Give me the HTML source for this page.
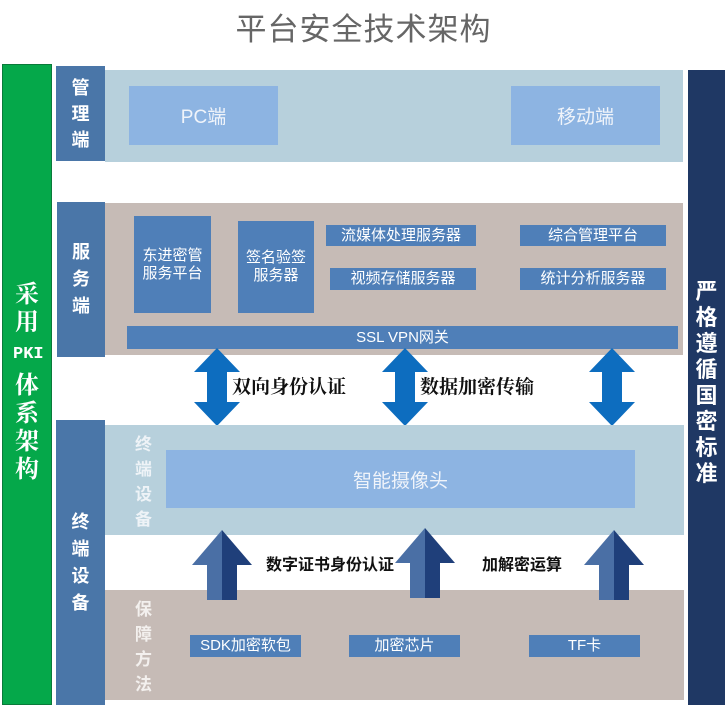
<!DOCTYPE html>
<html><head><meta charset="utf-8"><style>
*{margin:0;padding:0;box-sizing:border-box}
body{width:727px;height:709px;background:#fff;position:relative;overflow:hidden;font-family:"Liberation Sans","Noto Sans CJK SC",sans-serif}
.a{position:absolute}
.c{display:flex;align-items:center;justify-content:center;text-align:center;color:#fff}
.bx{background:#4f7fb8;font-size:15px;line-height:18px}
.lt{background:#8db4e2;font-size:19px;color:#f0f4fa}
</style></head><body>
<div class="a" style="left:0;top:4px;width:727px;text-align:center;font-size:31px;color:#666;letter-spacing:1px">平台安全技术架构</div>

<div class="a c" style="left:2px;top:64px;width:50px;height:641px;background:#05a84a;border:1px solid #0a7a3a">
<div style="font-family:'Noto Serif CJK SC',serif;font-weight:bold;font-size:24px;line-height:28px;width:28px;margin-top:-10px">采用<span style="font-size:17px;font-family:'Liberation Mono',monospace">PKI</span>体系架构</div></div>
<div class="a c" style="left:688px;top:70px;width:37px;height:635px;background:#1f3864">
<div style="font-size:22px;line-height:26px;width:24px;font-weight:bold;margin-top:-10px">严格遵循国密标准</div></div>

<div class="a" style="left:105px;top:70px;width:578px;height:92px;background:#b7d0dc"></div>
<div class="a c" style="left:56px;top:66px;width:49px;height:95px;background:#4a76a8;font-size:18px;line-height:26px;font-weight:bold"><div style="width:20px">管理端</div></div>
<div class="a c lt" style="left:129px;top:86px;width:149px;height:59px">PC端</div>
<div class="a c lt" style="left:511px;top:86px;width:149px;height:59px">移动端</div>

<div class="a" style="left:105px;top:203px;width:578px;height:152px;background:#c6bbb6"></div>
<div class="a c" style="left:57px;top:202px;width:48px;height:155px;background:#4a76a8;font-size:18px;line-height:27px;font-weight:bold"><div style="width:20px">服务端</div></div>
<div class="a c bx" style="left:134px;top:216px;width:77px;height:97px">东进密管<br>服务平台</div>
<div class="a c bx" style="left:238px;top:221px;width:76px;height:92px">签名验签<br>服务器</div>
<div class="a c bx" style="left:326px;top:225px;width:150px;height:21px">流媒体处理服务器</div>
<div class="a c bx" style="left:330px;top:268px;width:146px;height:22px">视频存储服务器</div>
<div class="a c bx" style="left:520px;top:225px;width:146px;height:21px">综合管理平台</div>
<div class="a c bx" style="left:520px;top:268px;width:146px;height:22px">统计分析服务器</div>
<div class="a c bx" style="left:127px;top:326px;width:551px;height:23px">SSL VPN网关</div>

<svg class="a" style="left:0;top:0" width="727" height="709">
<g fill="#0d6dbf">
<polygon points="217,348 240,372 227,372 227,402 240,402 217,426 194,402 207,402 207,372 194,372"/>
<polygon points="405,348 428,372 415,372 415,402 428,402 405,426 382,402 395,402 395,372 382,372"/>
<polygon points="612,348 635,372 622,372 622,402 635,402 612,426 589,402 602,402 602,372 589,372"/>
</g>
</svg>
<div class="a" style="left:232px;top:372px;font-size:19px;font-weight:bold;color:#111;font-family:'Noto Serif CJK SC',serif">双向身份认证</div>
<div class="a" style="left:420px;top:372px;font-size:19px;font-weight:bold;color:#111;font-family:'Noto Serif CJK SC',serif">数据加密传输</div>

<div class="a c" style="left:56px;top:420px;width:49px;height:285px;background:#4a76a8;font-size:18px;line-height:27px;font-weight:bold"><div style="width:20px">终端设备</div></div>
<div class="a" style="left:105px;top:425px;width:579px;height:110px;background:#b7d0dc"></div>
<div class="a" style="left:135px;top:432px;width:20px;font-size:17px;line-height:25px;color:#eef3f7;font-weight:bold">终端设备</div>
<div class="a c lt" style="left:166px;top:450px;width:469px;height:58px">智能摄像头</div>

<div class="a" style="left:105px;top:590px;width:579px;height:110px;background:#c6bbb6"></div>
<div class="a" style="left:135px;top:597px;width:20px;font-size:17px;line-height:25px;color:#f3f0ee;font-weight:bold">保障方法</div>
<div class="a c bx" style="left:190px;top:635px;width:111px;height:22px">SDK加密软包</div>
<div class="a c bx" style="left:349px;top:635px;width:111px;height:22px">加密芯片</div>
<div class="a c bx" style="left:529px;top:635px;width:111px;height:22px">TF卡</div>

<div class="a" style="left:266px;top:551px;font-size:16px;font-weight:bold;color:#111">数字证书身份认证</div>
<div class="a" style="left:482px;top:551px;font-size:16px;font-weight:bold;color:#111">加解密运算</div>
<svg class="a" style="left:0;top:0" width="727" height="709">
<g>
<polygon points="222,530 252,565 237,565 237,600 222,600" fill="#1f3f7a"/>
<polygon points="222,530 192,565 207,565 207,600 222,600" fill="#4a6fa5"/>
<polygon points="425,528 455,563 440,563 440,598 425,598" fill="#1f3f7a"/>
<polygon points="425,528 395,563 410,563 410,598 425,598" fill="#4a6fa5"/>
<polygon points="614,530 644,565 629,565 629,600 614,600" fill="#1f3f7a"/>
<polygon points="614,530 584,565 599,565 599,600 614,600" fill="#4a6fa5"/>
</g>
</svg>
</body></html>
